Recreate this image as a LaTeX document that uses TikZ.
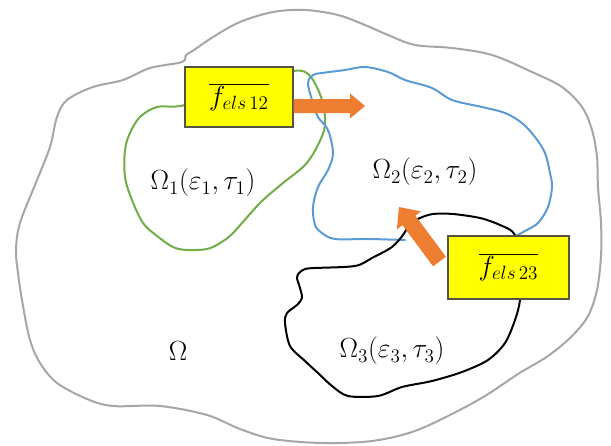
\documentclass[tikz,border=0pt]{standalone}
\usetikzlibrary{calc}

\definecolor{regiongray}{HTML}{A6A6A6}
\definecolor{regiongreen}{HTML}{70AD47}
\definecolor{regionblue}{HTML}{5B9BD5}
\definecolor{forceorange}{HTML}{ED7D31}
\definecolor{boxyellow}{HTML}{FFFF00}
\definecolor{boxedge}{HTML}{55553F}

% Block arrow: tail, tip, shaft half-width, head half-width, head length
\newcommand\blockarrow[5]{%
  \coordinate (ahead) at ($(#2)!#5!(#1)$);
  \fill[arrowfill] ($(#1)!#3!90:(#2)$) -- ($(ahead)!#3!90:(#2)$)
    -- ($(ahead)!#4!90:(#2)$) -- (#2) -- ($(ahead)!#4!-90:(#2)$)
    -- ($(ahead)!#3!-90:(#2)$) -- ($(#1)!#3!-90:(#2)$) -- cycle;}

\begin{document}
\begin{tikzpicture}[x=0.75pt,y=-0.75pt,
  outline/.style={line width=1.5pt, line join=round, line cap=round},
  arrowfill/.style={fill=forceorange},
  elsbox/.style={draw=boxedge, line width=0.8pt, fill=boxyellow, inner sep=0pt,
    font=\fontsize{20}{24}\selectfont},
  domlabel/.style={inner sep=0pt, font=\fontsize{20.5}{24}\selectfont}]
\useasboundingbox (0,0) rectangle (611,446);

% whole body Omega
\draw[outline, regiongray] plot[smooth cycle, tension=0.55] coordinates {
  (182,62) (186,55) (194,50) (213,37) (240,22) (273,12) (305,10) (338,15)
  (365,25) (388,35) (415,45) (452,48) (492,55) (532,72) (562,87) (582,107)
  (592,130) (597,157) (598,187) (601,223) (601,256) (597,290) (588,316)
  (572,336) (548,356) (518,374) (485,396) (448,416) (412,432) (372,441)
  (322,443) (273,439) (240,429) (207,415) (160,406) (113,406) (87,399)
  (57,383) (40,363) (30,340) (23,306) (18,273) (16,250) (20,223) (37,180)
  (50,147) (57,117) (67,100) (93,87) (123,80) (150,68)};

% sub-domain Omega_1
\draw[outline, regiongreen] plot[smooth cycle, tension=0.55] coordinates {
  (185,105) (157,107) (140,117) (130,133) (125,150) (125,177) (132,200)
  (143,223) (157,236) (173,247) (187,250) (207,249) (220,243) (233,233)
  (260,203) (283,183) (305,165) (318,145) (325,125) (322,100) (310,76)
  (293,71) (240,85)};

% sub-domain Omega_2 (its lower right edge is shared with Omega_3)
\draw[outline, regionblue] plot[smooth, tension=0.55] coordinates {
  (405,240) (368,239) (335,239) (322,233) (315,225) (313,207) (318,187)
  (328,170) (333,153) (328,130) (318,117) (312,100) (308,83) (313,75)
  (322,73) (345,70) (365,67) (388,72) (405,80) (432,88) (452,100) (482,107)
  (505,113) (522,123) (535,137) (545,153) (550,173) (552,187) (548,207)
  (538,223) (525,231) (516,236)};

% sub-domain Omega_3
\draw[outline, black] plot[smooth cycle, tension=0.5] coordinates {
  (305,269) (315,268) (355,266) (372,258) (392,247) (403,235) (410,224)
  (420,218) (433,214) (453,214) (480,218) (500,225) (515,235) (521,268)
  (520,300) (515,320) (505,343) (488,360) (462,372) (432,381) (402,387)
  (378,396) (348,396) (332,386) (318,373) (305,361) (290,346) (285,323)
  (287,313) (297,305) (302,298) (300,288) (297,278) (299,273)};

% interface forces
\node[elsbox, minimum width=81pt, minimum height=45pt] (f12) at (239,97)
  {$\overline{f_{els\,12}}$};
\node[elsbox, minimum width=90.75pt, minimum height=47.25pt] (f23) at (508.5,267.5)
  {$\overline{f_{els\,23}}$};

\coordinate (f12tail) at ($(f12.east)+(0,9)$);
\coordinate (f12tip) at (365,106);
\blockarrow{f12tail}{f12tip}{5.25pt}{9.4pt}{11.25pt}

\coordinate (f23tail) at ($(f23.west)+(-8,-6)$);
\coordinate (f23tip) at (399,207);
\blockarrow{f23tail}{f23tip}{6pt}{11.25pt}{12.5pt}

% domain labels
\node[domlabel] (om1) at (203,183) {$\Omega_1(\varepsilon_1,\tau_1)$};
\node[domlabel] (om2) at (425,172) {$\Omega_2(\varepsilon_2,\tau_2)$};
\node[domlabel] (om3) at (392,351) {$\Omega_3(\varepsilon_3,\tau_3)$};
\node[domlabel] (om) at (178,351) {$\Omega$};
\end{tikzpicture}
\end{document}
